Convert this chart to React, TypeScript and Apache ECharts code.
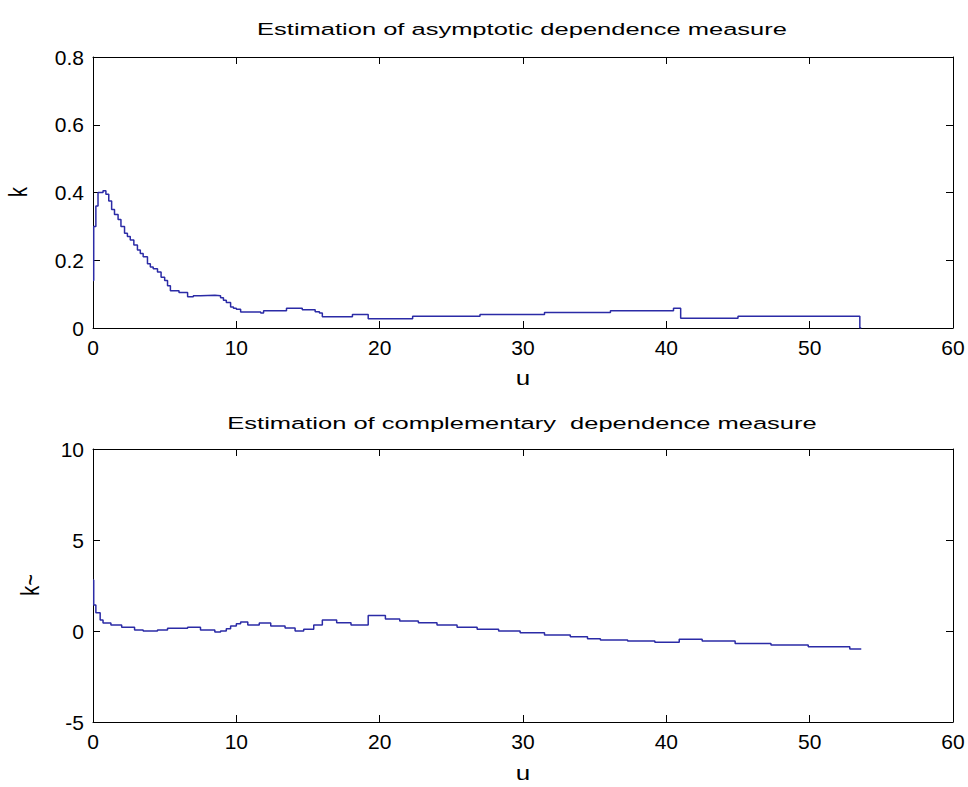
import React, { useEffect, useRef } from "react";
import * as echarts from "echarts";

// Top panel: asymptotic dependence measure k vs u (stepwise)
const topU = [0, 0.05, 0.2, 0.35, 0.7, 0.9, 1.1, 1.3, 1.5, 1.75, 1.95, 2.2, 2.4, 2.6, 2.85, 3.1, 3.3, 3.5, 3.8, 4.0, 4.2, 4.5, 4.75, 5.0, 5.2, 5.4, 6.0, 6.6, 7.0, 7.5, 8.5, 8.9, 9.1, 9.3, 9.6, 9.8, 10.0, 10.3, 11.7, 11.9, 13.5, 14.6, 15.5, 15.8, 16.0, 18.1, 19.2, 22.3, 27.0, 31.5, 36.1, 40.5, 41.0, 45.0, 53.5, 53.6];
const topK = [0.14, 0.30, 0.36, 0.40, 0.405, 0.395, 0.375, 0.35, 0.335, 0.32, 0.30, 0.28, 0.27, 0.26, 0.245, 0.23, 0.22, 0.21, 0.19, 0.18, 0.175, 0.165, 0.15, 0.14, 0.125, 0.11, 0.105, 0.092, 0.095, 0.097, 0.095, 0.089, 0.082, 0.075, 0.062, 0.058, 0.055, 0.047, 0.044, 0.051, 0.058, 0.054, 0.048, 0.044, 0.033, 0.04, 0.027, 0.035, 0.04, 0.046, 0.051, 0.058, 0.029, 0.035, 0.0, 0.0];

// Bottom panel: complementary dependence measure k~ vs u (stepwise)
const botU = [0, 0.05, 0.2, 0.5, 0.7, 1.25, 2.0, 2.9, 3.5, 4.5, 5.2, 6.6, 7.5, 8.5, 8.9, 9.3, 9.6, 10.0, 10.3, 10.8, 11.6, 12.4, 13.4, 14.1, 14.7, 15.4, 16.0, 17.0, 18.0, 19.2, 20.4, 21.4, 22.7, 24.0, 25.4, 26.8, 28.3, 29.8, 31.5, 33.3, 34.5, 35.4, 37.3, 39.2, 40.9, 42.5, 44.8, 47.3, 49.9, 52.8, 53.6];
const botK = [2.8, 1.43, 1.0, 0.6, 0.44, 0.33, 0.2, 0.05, 0.0, 0.05, 0.15, 0.2, 0.05, -0.05, 0.0, 0.12, 0.27, 0.4, 0.5, 0.33, 0.44, 0.27, 0.16, 0.0, 0.1, 0.33, 0.6, 0.46, 0.33, 0.85, 0.66, 0.55, 0.46, 0.33, 0.2, 0.09, 0.0, -0.09, -0.22, -0.31, -0.42, -0.5, -0.55, -0.62, -0.45, -0.55, -0.68, -0.77, -0.86, -0.99, -0.99];

const xTicks = { min: 0, max: 60, interval: 10 };
const topY = { min: 0, max: 0.8, interval: 0.2 };
const botY = { min: -5, max: 10, interval: 5 };

const titles = ["Estimation of asymptotic dependence measure", "Estimation of complementary  dependence measure"];

const FONT = "Liberation Sans";
const LINE = "#2b2ba6";

export default function App() {
  const ref = useRef<HTMLDivElement>(null);
  useEffect(() => {
    if (!ref.current) return;
    const chart = echarts.init(ref.current, null, { renderer: "svg" });
    const axisLine = { show: true, onZero: false, lineStyle: { color: "#000", width: 1 } };
    const tick = { show: true, inside: true, length: 7, lineStyle: { color: "#000", width: 1 } };
    const label = { show: true, color: "#000", fontSize: 21, fontFamily: FONT };
    const mkX = (gi: number, pos: "bottom" | "top", showLabel: boolean) => ({
      type: "value", gridIndex: gi, position: pos, ...xTicks,
      axisLine, axisTick: tick,
      axisLabel: showLabel ? { ...label, margin: 9 } : { show: false },
      splitLine: { show: false },
    });
    const mkY = (gi: number, pos: "left" | "right", r: any, showLabel: boolean) => ({
      type: "value", gridIndex: gi, position: pos, ...r,
      axisLine, axisTick: tick,
      axisLabel: showLabel ? { ...label, margin: 9, formatter: (v: number) => (Number.isInteger(v) ? String(v) : v.toFixed(1)) } : { show: false },
      splitLine: { show: false },
    });
    const txt = (x: number, y: number, t: string, size: number, sx: number, rot = 0) => ({
      type: "text", x, y, rotation: rot, scaleX: rot ? 1 : sx, scaleY: rot ? sx : 1,
      style: { text: t, fill: "#000", fontSize: size, fontFamily: FONT, textAlign: "center", textVerticalAlign: "middle" },
    });
    chart.setOption({
      animation: false,
      backgroundColor: "#fff",
      grid: [
        { left: 93, right: 15, top: 57, height: 271 },
        { left: 93, right: 15, top: 449, height: 273 },
      ],
      xAxis: [mkX(0, "bottom", true), mkX(0, "top", false), mkX(1, "bottom", true), mkX(1, "top", false)],
      yAxis: [mkY(0, "left", topY, true), mkY(0, "right", topY, false), mkY(1, "left", botY, true), mkY(1, "right", botY, false)],
      series: [
        {
          type: "line", xAxisIndex: 0, yAxisIndex: 0, step: "end", showSymbol: false,
          lineStyle: { color: LINE, width: 1.5 }, data: topU.map((u, i) => [u, topK[i]]),
        },
        {
          type: "line", xAxisIndex: 2, yAxisIndex: 2, step: "end", showSymbol: false,
          lineStyle: { color: LINE, width: 1.5 }, data: botU.map((u, i) => [u, botK[i]]),
        },
      ],
      graphic: [
        txt(522, 29, titles[0], 17, 1.5),
        txt(522, 423, titles[1], 17, 1.5),
        txt(523, 378, "u", 20, 1.3),
        txt(523, 773, "u", 20, 1.3),
        txt(18, 192, "k", 20, 1.3, Math.PI / 2),
        txt(30, 585, "k~", 20, 1.3, Math.PI / 2),
      ],
    });
    return () => chart.dispose();
  }, []);
  return <div ref={ref} style={{ position: "fixed", left: 0, top: 0, width: 968, height: 787 }} />;
}
